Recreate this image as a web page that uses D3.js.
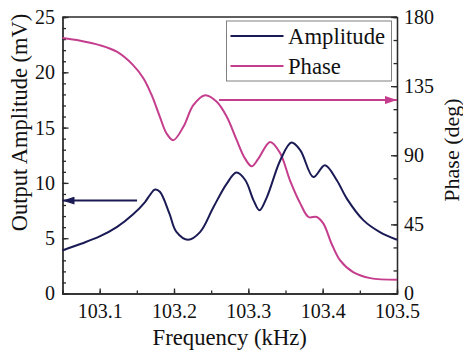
<!DOCTYPE html>
<html>
<head>
<meta charset="utf-8">
<script src="https://cdn.jsdelivr.net/npm/d3@7"></script>
<style>
    body { margin: 0; background: #fff; }
    svg text { font-family: "Liberation Serif", "Times New Roman", "DejaVu Serif", serif; }
</style>
</head>
<body>
<div id="chart"></div>
<script>
'use strict';

// Frequency (kHz) / output amplitude (mV)
let ampFreq = [103.05, 103.075, 103.1, 103.123, 103.145, 103.161, 103.168, 103.1745, 103.181,
    103.194, 103.203, 103.219, 103.235, 103.253, 103.271, 103.284, 103.296, 103.307, 103.315,
    103.325, 103.343, 103.358, 103.37, 103.3875, 103.403, 103.419, 103.4325, 103.455, 103.477,
    103.5];
let ampValues = [3.9, 4.5, 5.16, 6.0, 7.16, 8.27, 8.95, 9.4, 9.2,
    7.2, 5.6, 4.86, 5.55, 7.8, 9.94, 10.93, 10.24, 8.42, 7.52,
    8.72, 12.05, 13.65, 12.95, 10.53, 11.6, 10.24, 8.58, 6.61, 5.55,
    4.86];

// Frequency (kHz) / phase (deg)
let phaseFreq = [103.05, 103.074, 103.1, 103.123, 103.145, 103.159, 103.17, 103.181, 103.19,
    103.199, 103.2126, 103.226, 103.242, 103.2575, 103.271, 103.2844, 103.2956, 103.3046,
    103.3135, 103.3293, 103.3427, 103.356, 103.37, 103.381, 103.392, 103.401, 103.412,
    103.4235, 103.441, 103.464, 103.5];
let phaseValues = [166.3, 164.6, 161.7, 157.4, 148.7, 140, 129.1, 115, 104.2,
    99.8, 108.5, 122.6, 129.1, 124.8, 115, 99.8, 87.8, 82.8,
    87.8, 98.7, 91.5, 73.7, 58.5, 49.8, 49.8, 45.5, 32.4,
    21.5, 13.9, 10, 8.9];

// Arrows pointing at each curve's axis: [from freq, to freq], level
let ampArrowFreq = [103.1503, 103.05];
let ampArrowLevel = 8.4;
let phaseArrowFreq = [103.2606, 103.5];
let phaseArrowLevel = 125.9;

let freqTicks = [103.1, 103.2, 103.3, 103.4, 103.5];
let ampTicks = [0, 5, 10, 15, 20, 25];
let phaseTicks = [0, 45, 90, 135, 180];
let seriesNames = ['Amplitude', 'Phase'];

let width = 463, height = 352;
let margin = {top: 17, right: 66, bottom: 58.5, left: 62.5};
let ampColor = '#1a1a55', phaseColor = '#c53d8d', axisColor = '#2a2a2a';
let serif = '"Liberation Serif", "Times New Roman", "DejaVu Serif", serif';

let svg = d3.select('#chart').append('svg')
    .attr('width', width)
    .attr('height', height)
    .style('display', 'block');

let x = d3.scaleLinear().domain([103.05, 103.5]).range([margin.left, width - margin.right]);
let yAmp = d3.scaleLinear().domain([0, 25]).range([height - margin.bottom, margin.top]);
let yPhase = d3.scaleLinear().domain([0, 180]).range([height - margin.bottom, margin.top]);

let defs = svg.append('defs');
[['amp', ampColor], ['phase', phaseColor]].forEach(function (m) {
    defs.append('marker')
        .attr('id', 'head-' + m[0])
        .attr('viewBox', '0 0 12 8')
        .attr('refX', 12)
        .attr('refY', 4)
        .attr('markerWidth', 12)
        .attr('markerHeight', 8)
        .attr('markerUnits', 'userSpaceOnUse')
        .attr('orient', 'auto')
        .append('path')
        .attr('d', 'M0,0L12,4L0,8Z')
        .attr('fill', m[1]);
});

// minor ticks first, majors with labels on top
function styleAxis(g) {
    g.attr('font-family', serif).attr('font-size', 20);
    g.selectAll('path, line').attr('stroke', axisColor).attr('stroke-width', 1.3);
    g.selectAll('text').attr('fill', '#111');
}

svg.append('g')
    .attr('transform', 'translate(' + margin.left + ',0)')
    .call(d3.axisLeft(yAmp).tickValues(d3.range(0, 26, 1)).tickSize(-3.5).tickFormat(''))
    .call(styleAxis);
svg.append('g')
    .attr('transform', 'translate(' + margin.left + ',0)')
    .call(d3.axisLeft(yAmp).tickValues(ampTicks).tickSizeInner(-6).tickSizeOuter(0).tickPadding(7.5))
    .call(styleAxis);

svg.append('g')
    .attr('transform', 'translate(' + (width - margin.right) + ',0)')
    .call(d3.axisRight(yPhase).tickValues(d3.range(0, 181, 15)).tickSize(-3.5).tickFormat(''))
    .call(styleAxis);
svg.append('g')
    .attr('transform', 'translate(' + (width - margin.right) + ',0)')
    .call(d3.axisRight(yPhase).tickValues(phaseTicks).tickSizeInner(-6).tickSizeOuter(0).tickPadding(7))
    .call(styleAxis);

svg.append('g')
    .attr('transform', 'translate(0,' + (height - margin.bottom) + ')')
    .call(d3.axisBottom(x).tickValues(d3.range(103.05, 103.51, 0.05)).tickSize(-3).tickFormat(''))
    .call(styleAxis);
svg.append('g')
    .attr('transform', 'translate(0,' + (height - margin.bottom) + ')')
    .call(d3.axisBottom(x).tickValues(freqTicks).tickSizeInner(-5).tickSizeOuter(0)
        .tickPadding(10.3).tickFormat(d3.format('.1f')))
    .call(styleAxis);

// top frame line
svg.append('line')
    .attr('x1', margin.left)
    .attr('x2', width - margin.right)
    .attr('y1', margin.top)
    .attr('y2', margin.top)
    .attr('stroke', axisColor)
    .attr('stroke-width', 1.3);

let ampLine = d3.line()
    .x(function (d, i) { return x(ampFreq[i]); })
    .y(function (d) { return yAmp(d); })
    .curve(d3.curveCatmullRom.alpha(0.5));
let phaseLine = d3.line()
    .x(function (d, i) { return x(phaseFreq[i]); })
    .y(function (d) { return yPhase(d); })
    .curve(d3.curveCatmullRom.alpha(0.5));

svg.append('path')
    .datum(phaseValues)
    .attr('d', phaseLine)
    .attr('fill', 'none')
    .attr('stroke', phaseColor)
    .attr('stroke-width', 2);
svg.append('path')
    .datum(ampValues)
    .attr('d', ampLine)
    .attr('fill', 'none')
    .attr('stroke', ampColor)
    .attr('stroke-width', 2);

svg.append('line')
    .attr('x1', x(ampArrowFreq[0]))
    .attr('x2', x(ampArrowFreq[1]))
    .attr('y1', yAmp(ampArrowLevel))
    .attr('y2', yAmp(ampArrowLevel))
    .attr('stroke', ampColor)
    .attr('stroke-width', 2)
    .attr('marker-end', 'url(#head-amp)');
svg.append('line')
    .attr('x1', x(phaseArrowFreq[0]))
    .attr('x2', x(phaseArrowFreq[1]))
    .attr('y1', yPhase(phaseArrowLevel))
    .attr('y2', yPhase(phaseArrowLevel))
    .attr('stroke', phaseColor)
    .attr('stroke-width', 2)
    .attr('marker-end', 'url(#head-phase)');

// legend
let legend = svg.append('g').attr('transform', 'translate(226.5,21)');
legend.append('rect')
    .attr('width', 165)
    .attr('height', 60)
    .attr('fill', '#fff')
    .attr('stroke', '#808080')
    .attr('stroke-width', 1);
seriesNames.forEach(function (name, i) {
    let yy = 15 + i * 30;
    legend.append('line')
        .attr('x1', 4)
        .attr('x2', 57)
        .attr('y1', yy)
        .attr('y2', yy)
        .attr('stroke', i === 0 ? ampColor : phaseColor)
        .attr('stroke-width', 2);
    legend.append('text')
        .attr('x', 61.5)
        .attr('y', yy + 7.5)
        .attr('fill', '#111')
        .attr('font-size', 22.7)
        .text(name);
});

// axis titles
svg.append('text')
    .attr('x', (margin.left + width - margin.right) / 2)
    .attr('y', 345)
    .attr('text-anchor', 'middle')
    .attr('fill', '#111')
    .attr('font-size', 22.7)
    .text('Frequency (kHz)');

svg.append('text')
    .attr('transform', 'translate(27,122.5)rotate(-90)')
    .attr('text-anchor', 'middle')
    .attr('fill', '#111')
    .attr('font-size', 22.5)
    .text('Output Amplitude (mV)');

svg.append('text')
    .attr('transform', 'translate(459,150)rotate(-90)')
    .attr('text-anchor', 'middle')
    .attr('fill', '#111')
    .attr('font-size', 22)
    .text('Phase (deg)');
</script>
</body>
</html>
